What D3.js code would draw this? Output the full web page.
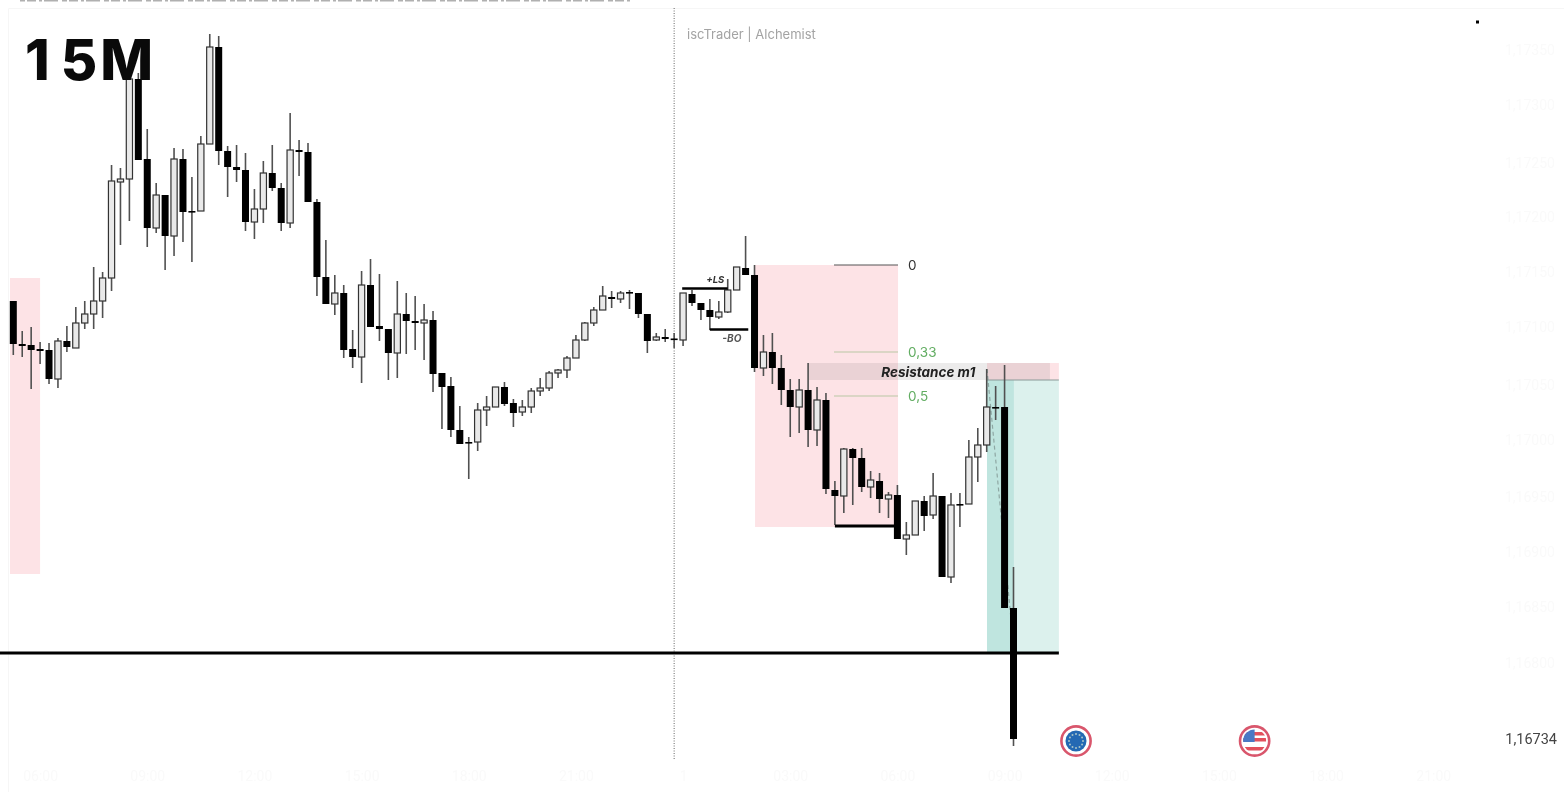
<!DOCTYPE html>
<html>
<head>
<meta charset="utf-8">
<title>15M</title>
<script src="https://cdn.jsdelivr.net/npm/d3@7"></script>
<style>
    html, body { margin: 0; padding: 0; background: #fff; }
    svg { display: block; filter: blur(0.4px); }
</style>
</head>
<body>
<div id="chart"></div>
<script>
// Candles, in points above the last price (1,16734)
const opens = [438,395,394,390,389,360,398,391,416,425,
    438,461,557,560,660,580,511,544,503,580,
    528,528,595,692,588,572,569,517,530,566,
    551,516,589,587,537,462,435,446,390,382,
    454,413,410,386,425,418,416,419,366,353,
    309,297,297,329,332,352,336,327,332,348,
    351,366,369,381,399,416,429,442,440,447,
    446,425,399,402,400.5,399,445,436,429,422,
    427,449,471,464,371,387,371,349,332,349,
    309,339,249,243,290,281,252,258,240,244,
    200,204,238,224,243,162,235,235,282,294,
    332,332,131];
const closes = [395,393,389,388,360,398,392,416,425,438,
    461,558,560,660,579,511,544,503,580,527,
    527,595,692,588,572,569,517,530,566,551,
    516,589,587,537,462,435,446,389,382,454,
    412,410,386,425,418,416,419,365,352,309,
    295,296,329,332,352,335,326,332,348,351,
    366,369,381,399,416,429,443,440,446,446,
    425,398,402,400,400,446,436,429,422,427,
    449,472,464,371,387,371,349,332,349,309,
    339,250,243,290,281,252,259,240,244,200,
    204,238,223,243,162,234,234,282,294,332,
    331,131,0];
const highs = [438,408,412,397,396,401,413,432,438,472,
    467,574,571,665,666,610,556,544,591,590,
    562,603,705,703,593,594,586,550,578,594,
    556,626,599,596,540,499,464,454,409,468,
    480,465,410,458,446,443,435,428,366,362,
    333,302,336,343,352,357,340,339,351,361,
    368,370,383,404,417,432,453,448,448,449,
    446,425,406,410,406,446,449,436,440,438,
    460,472,503,474,404,406,384,360,360,376,
    352,346,258,291,291,291,268,266,247,254,
    217,238,243,266,243,246,246,299,311,370,
    353,374,172];
const lows = [384,382,350,375,355,351,387,391,410,410,
    421,448,494,518,579,492,506,469,483,497,
    477,528,595,574,542,557,508,500,516,548,
    508,511,563,537,443,435,424,381,371,356,
    412,398,359,361,385,389,379,347,310,302,
    295,260,288,313,332,333,312,323,326,343,
    348,361,361,381,398,413,429,431,436,430,
    421,386,398,397,391,393,433,419,409,420,
    426,449,464,367,363,355,334,302,306,292,
    293,245,214,226,234,247,241,226,221,200,
    184,204,208,220,162,156,212,235,257,287,
    319,131,-7];

// Axes (almost erased in the picture)
const priceTicks = [689,634,576,522,467,412,354,299,242,187,132,76];
const priceLabels = ['1,17350','1,17300','1,17250','1,17200','1,17150','1,17100','1,17050','1,17000','1,16950','1,16900','1,16850','1,16800'];
const timeTicks = [3,15,27,39,51,63,75,87,99,111,123,135,147,159];
const timeLabels = ['06:00','09:00','12:00','15:00','18:00','21:00','1','03:00','06:00','09:00','12:00','15:00','18:00','21:00'];

// Drawing tools levels
const fibLevels = [474,387,343];
const fibLabels = ['0','0,33','0,5'];
const fibColors = ['#555','#b9c7a4','#b9c7a4'];
const fibTextColors = ['#333','#62ad62','#62ad62'];
const newsEvents = [119,139];

const chartWidth = 1564, chartHeight = 792;

const x = d3.scaleLinear().domain([0, 112]).range([13.3, 1013.5]);
const y = d3.scaleLinear().domain([0, 739]).range([739, 0]);

const svg = d3.select('#chart')
    .append('svg')
    .attr('width', chartWidth)
    .attr('height', chartHeight);

// Helper for the filled zones, [i0, i1] in candles and [v0, v1] in points
function zone(i0, i1, v0, v1, fill) {
    return svg.append('rect')
        .attr('x', x(i0))
        .attr('y', y(v0))
        .attr('width', x(i1) - x(i0))
        .attr('height', y(v1) - y(v0))
        .attr('fill', fill);
}

function level(i0, i1, v, color, width) {
    return svg.append('line')
        .attr('x1', x(i0)).attr('x2', x(i1))
        .attr('y1', y(v)).attr('y2', y(v))
        .attr('stroke', color)
        .attr('stroke-width', width);
}

// Frame and cut off header
svg.append('path')
    .attr('d', 'M8.5,792V8.5H1564')
    .attr('fill', 'none')
    .attr('stroke', '#f6f6f6');
svg.append('line')
    .attr('x1', 20).attr('x2', 630)
    .attr('y1', 0.5).attr('y2', 0.5)
    .attr('stroke', '#b0b0b0')
    .attr('stroke-width', 2)
    .attr('stroke-dasharray', '5 2 9 3 3 2 14 4');

// Axes
svg.append('g')
    .attr('transform', 'translate(1505,0)')
    .call(d3.axisRight(y).tickValues(priceTicks).tickSize(0).tickPadding(0)
        .tickFormat((d, i) => priceLabels[i]))
    .call(g => g.select('.domain').remove())
    .selectAll('text')
    .attr('fill', '#fafafa')
    .style('font', '14px Roboto');

svg.append('g')
    .attr('transform', 'translate(0,771)')
    .call(d3.axisBottom(x).tickValues(timeTicks).tickSize(0).tickPadding(0)
        .tickFormat((d, i) => timeLabels[i]))
    .call(g => g.select('.domain').remove())
    .selectAll('text')
    .attr('fill', '#fafafa')
    .style('font', '14px Roboto');

// Pink zones
zone(-0.37, 3, 461, 165, '#fde3e6');
zone(83.06, 99.07, 474, 212, '#fde3e6');

// Trade box
zone(109.03, 117.08, 376, 359, '#fde3e6');
zone(109.03, 117.08, 359, 86, '#dcf1ed');
zone(109.03, 112.04, 359, 86, '#bfe5df');

// Resistance band
zone(89, 116.08, 376, 359, 'rgba(110,100,100,0.13)');
level(109.03, 117.08, 359, '#8a9a98', 1);

// Vertical separator
svg.append('line')
    .attr('x1', x(74)).attr('x2', x(74))
    .attr('y1', y(731)).attr('y2', y(-21))
    .attr('stroke', '#666')
    .attr('stroke-width', 1)
    .attr('stroke-dasharray', '1 1.5');

// Fibonacci levels
fibLevels.forEach((v, i) => {
    level(91.9, 99.07, v, fibColors[i], 1.2);
    svg.append('text')
        .attr('x', x(100.2))
        .attr('y', y(v) + 5)
        .attr('fill', fibTextColors[i])
        .style('font', '13.5px Inter')
        .text(fibLabels[i]);
});

// Projected path of the trade
svg.append('line')
    .attr('x1', x(109.03)).attr('y1', y(370))
    .attr('x2', x(112)).attr('y2', y(94))
    .attr('stroke', '#8fa8a4')
    .attr('stroke-width', 1.2)
    .attr('stroke-dasharray', '4 3');

// Candles
const candles = opens.map((o, i) => ({ i, o, c: closes[i], h: highs[i], l: lows[i] }));

svg.append('g')
    .selectAll('line')
    .data(candles)
    .enter()
    .append('line')
    .attr('x1', d => x(d.i))
    .attr('x2', d => x(d.i))
    .attr('y1', d => y(d.h))
    .attr('y2', d => y(d.l))
    .attr('stroke', '#505050')
    .attr('stroke-width', 1.6);

svg.append('g')
    .selectAll('rect')
    .data(candles)
    .enter()
    .append('rect')
    .attr('x', d => x(d.i) - (d.c > d.o ? 3.1 : 3.5))
    .attr('width', d => d.c > d.o ? 6.2 : 7)
    .attr('y', d => y(Math.max(d.o, d.c)))
    .attr('height', d => Math.max(y(Math.min(d.o, d.c)) - y(Math.max(d.o, d.c)), 1.6))
    .attr('fill', d => d.c > d.o ? '#e9e9e9' : '#000')
    .attr('stroke', d => d.c > d.o ? '#333' : 'none')
    .attr('stroke-width', 1.2);

// Structure lines
level(-1.49, 117.08, 86, '#000', 3);
level(92, 98.7, 213, '#000', 3);
level(74.9, 80, 450.5, '#000', 2.5);
level(78, 82.3, 409.5, '#000', 2.5);

svg.append('text')
    .attr('x', x(77.6)).attr('y', y(456))
    .attr('fill', '#333')
    .style('font', 'italic 700 9.5px Inter')
    .text('+LS');
svg.append('text')
    .attr('x', x(79.4)).attr('y', y(397))
    .attr('fill', '#555')
    .style('font', 'italic 700 10px Inter')
    .text('-BO');

svg.append('text')
    .attr('x', x(97.2)).attr('y', y(362))
    .attr('fill', '#222')
    .style('font', 'italic 700 13.5px Inter')
    .text('Resistance m1');

// News flags
const flagY = 741;
const euStars = d3.range(12);

function flagBase(i) {
    const g = svg.append('g').attr('transform', `translate(${x(i)},${flagY})`);
    g.append('circle').attr('r', 14.6).attr('fill', '#fff').attr('stroke', '#d9566c').attr('stroke-width', 2.6);
    return g;
}

const eu = flagBase(newsEvents[0]);
eu.append('circle').attr('r', 10.5).attr('fill', '#2469b3');
eu.selectAll('circle.star')
    .data(euStars)
    .enter()
    .append('circle')
    .attr('class', 'star')
    .attr('r', 1)
    .attr('cx', d => 7 * Math.cos(d * Math.PI / 6))
    .attr('cy', d => 7 * Math.sin(d * Math.PI / 6))
    .attr('fill', '#a9c4c8');

const us = flagBase(newsEvents[1]);
svg.append('clipPath').attr('id', 'usClip').append('circle').attr('r', 11.5);
const usFlag = us.append('g').attr('clip-path', 'url(#usClip)');
usFlag.append('rect').attr('x', -12).attr('y', -12).attr('width', 24).attr('height', 24).attr('fill', '#fff');
usFlag.selectAll('rect.stripe')
    .data([-9, -3, 6])
    .enter()
    .append('rect')
    .attr('class', 'stripe')
    .attr('x', -12)
    .attr('y', d => d)
    .attr('width', 24)
    .attr('height', 3.5)
    .attr('fill', '#e2505c');
usFlag.append('rect').attr('x', -12).attr('y', -12).attr('width', 12).attr('height', 13).attr('fill', '#4a78c4');

// Other texts
svg.append('text')
    .attr('x', 25).attr('y', 80)
    .attr('dx', '0 11 3')
    .attr('fill', '#0a0a0a')
    .style('font', '800 56px Inter')
    .text('15M');

svg.append('text')
    .attr('x', 687).attr('y', 38.5)
    .attr('fill', '#a3a3a3')
    .style('font', '13px Inter')
    .text('iscTrader | Alchemist');

svg.append('text')
    .attr('x', 1557).attr('y', y(0) + 5)
    .attr('text-anchor', 'end')
    .attr('fill', '#444')
    .style('font', '14.5px Roboto')
    .text('1,16734');

svg.append('rect')
    .attr('x', 1476).attr('y', 20.5)
    .attr('width', 3).attr('height', 3)
    .attr('fill', '#000');
</script>
</body>
</html>
